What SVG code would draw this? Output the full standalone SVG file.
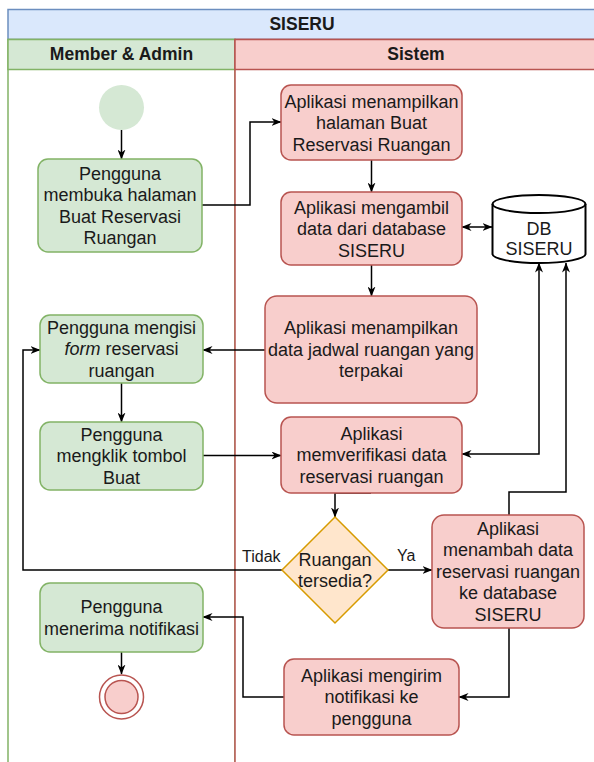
<svg xmlns="http://www.w3.org/2000/svg" width="594" height="762" viewBox="0 0 594 762">
  <style>
    text { font-family: "Liberation Sans", Arial, sans-serif; fill: #1a1a1a; }
    .t { font-size: 18px; text-anchor: middle; }
    .h { font-size: 17.5px; font-weight: bold; text-anchor: middle; }
    .lbl { font-size: 16px; }
    .green { fill: #d5e8d4; stroke: #82b366; stroke-width: 1.5; }
    .red { fill: #f8cecc; stroke: #b85450; stroke-width: 1.5; }
    .dec { fill: #ffe6cc; stroke: #d79b00; stroke-width: 1.5; }
    .edge { fill: none; stroke: #000; stroke-width: 1.5; }
  </style>
  <defs>
    <marker id="arrow" viewBox="0 0 10 8" refX="9.5" refY="4" markerWidth="10" markerHeight="8" markerUnits="userSpaceOnUse" orient="auto-start-reverse">
      <path d="M0,0 L10,4 L0,8 L3,4 Z" fill="#000"/>
    </marker>
  </defs>

  <!-- pool and lanes -->
  <g id="pool">
    <rect x="8" y="9.5" width="590" height="30" fill="#dae8fc" stroke="#6c8ebf" stroke-width="1.5"/>
    <text class="h" x="302" y="29.5">SISERU</text>
    <rect x="8" y="39.5" width="227" height="740" fill="#fff" stroke="#82b366" stroke-width="1.5"/>
    <rect x="8" y="39.5" width="227" height="30" class="green"/>
    <text class="h" x="121.5" y="60">Member &amp; Admin</text>
    <rect x="235" y="39.5" width="363" height="740" fill="#fff" stroke="#b85450" stroke-width="1.5"/>
    <rect x="235" y="39.5" width="363" height="30" class="red"/>
    <text class="h" x="416" y="60">Sistem</text>
  </g>

  <!-- connectors -->
  <g id="connectors">
    <path class="edge" d="M121.5 130 V159" marker-end="url(#arrow)"/>
    <path class="edge" d="M202 205 H250 V122 H281" marker-end="url(#arrow)"/>
    <path class="edge" d="M371.5 160 V192" marker-end="url(#arrow)"/>
    <path class="edge" d="M462 227 H492" marker-start="url(#arrow)" marker-end="url(#arrow)"/>
    <path class="edge" d="M371.5 265 V296" marker-end="url(#arrow)"/>
    <path class="edge" d="M265 350 H203" marker-end="url(#arrow)"/>
    <path class="edge" d="M121.5 383 V422" marker-end="url(#arrow)"/>
    <path class="edge" d="M203 455.5 H281" marker-end="url(#arrow)"/>
    <path class="edge" d="M462 454 H539 V263" marker-start="url(#arrow)" marker-end="url(#arrow)"/>
    <path class="edge" d="M509 515 V492 H566 V263" marker-end="url(#arrow)"/>
    <path class="edge" d="M371 493 H335 V517" marker-end="url(#arrow)"/>
    <path class="edge" d="M388 570 H432" marker-end="url(#arrow)"/>
    <path class="edge" d="M282 570 H23 V350 H40" marker-end="url(#arrow)"/>
    <path class="edge" d="M509 628 V697 H459" marker-end="url(#arrow)"/>
    <path class="edge" d="M284 697 H243 V617 H203" marker-end="url(#arrow)"/>
    <path class="edge" d="M121.5 652 V674" marker-end="url(#arrow)"/>
    <text class="lbl" x="242" y="562">Tidak</text>
    <text class="lbl" x="397" y="561">Ya</text>
  </g>

  <!-- nodes -->
  <g id="start">
    <circle cx="121.5" cy="107.5" r="22.5" fill="#d5e8d4"/>
  </g>

  <g id="open-page">
    <rect x="38" y="159" width="164" height="93" rx="10" class="green"/>
    <text class="t"><tspan x="120" y="179.5">Pengguna</tspan><tspan x="120" y="201">membuka halaman</tspan><tspan x="120" y="222.5">Buat Reservasi</tspan><tspan x="120" y="244">Ruangan</tspan></text>
  </g>

  <g id="show-page">
    <rect x="281" y="85" width="181" height="75" rx="10" class="red"/>
    <text class="t"><tspan x="371.5" y="107.5">Aplikasi menampilkan</tspan><tspan x="371.5" y="129">halaman Buat</tspan><tspan x="371.5" y="150.5">Reservasi Ruangan</tspan></text>
  </g>

  <g id="fetch-data">
    <rect x="281" y="192" width="181" height="73" rx="10" class="red"/>
    <text class="t"><tspan x="371.5" y="213.5">Aplikasi mengambil</tspan><tspan x="371.5" y="235">data dari database</tspan><tspan x="371.5" y="256.5">SISERU</tspan></text>
  </g>

  <g id="db">
    <path d="M492.5 204 A46.5 9 0 0 1 585.5 204 V254 A46.5 9 0 0 1 492.5 254 Z" fill="#fff" stroke="#000" stroke-width="2"/>
    <path d="M492.5 204 A46.5 9 0 0 0 585.5 204" fill="none" stroke="#000" stroke-width="2"/>
    <text class="t"><tspan x="539" y="234.5">DB</tspan><tspan x="539" y="255">SISERU</tspan></text>
  </g>

  <g id="show-schedule">
    <rect x="265" y="296" width="212" height="107" rx="12" class="red"/>
    <text class="t"><tspan x="371" y="334">Aplikasi menampilkan</tspan><tspan x="371" y="355.5">data jadwal ruangan yang</tspan><tspan x="371" y="377">terpakai</tspan></text>
  </g>

  <g id="fill-form">
    <rect x="40" y="315" width="163" height="68" rx="10" class="green"/>
    <text class="t"><tspan x="121.5" y="333.5">Pengguna mengisi</tspan><tspan x="121.5" y="355"><tspan font-style="italic">form</tspan> reservasi</tspan><tspan x="121.5" y="376.5">ruangan</tspan></text>
  </g>

  <g id="click-create">
    <rect x="40" y="422" width="163" height="68" rx="10" class="green"/>
    <text class="t"><tspan x="121.5" y="440.5">Pengguna</tspan><tspan x="121.5" y="462">mengklik tombol</tspan><tspan x="121.5" y="483.5">Buat</tspan></text>
  </g>

  <g id="verify">
    <rect x="281" y="417" width="181" height="76" rx="10" class="red"/>
    <text class="t"><tspan x="371.5" y="439.5">Aplikasi</tspan><tspan x="371.5" y="461">memverifikasi data</tspan><tspan x="371.5" y="482.5">reservasi ruangan</tspan></text>
  </g>

  <g id="available">
    <path d="M335 517 L388 570 L335 623 L282 570 Z" class="dec"/>
    <text class="t"><tspan x="335" y="565.5">Ruangan</tspan><tspan x="335" y="587">tersedia?</tspan></text>
  </g>

  <g id="insert-data">
    <rect x="432" y="515" width="152" height="113" rx="12" class="red"/>
    <text class="t"><tspan x="508" y="534.5">Aplikasi</tspan><tspan x="508" y="556">menambah data</tspan><tspan x="508" y="577.5">reservasi ruangan</tspan><tspan x="508" y="599">ke database</tspan><tspan x="508" y="620.5">SISERU</tspan></text>
  </g>

  <g id="send-notification">
    <rect x="284" y="659" width="175" height="76" rx="10" class="red"/>
    <text class="t"><tspan x="371.5" y="681.5">Aplikasi mengirim</tspan><tspan x="371.5" y="703">notifikasi ke</tspan><tspan x="371.5" y="724.5">pengguna</tspan></text>
  </g>

  <g id="receive-notification">
    <rect x="40" y="583" width="163" height="69" rx="10" class="green"/>
    <text class="t"><tspan x="121.5" y="613">Pengguna</tspan><tspan x="121.5" y="634.5">menerima notifikasi</tspan></text>
  </g>

  <g id="end">
    <circle cx="121.5" cy="697" r="22" fill="#fff" stroke="#b85450" stroke-width="1.5"/>
    <circle cx="121.5" cy="697" r="16.5" class="red"/>
  </g>
</svg>
